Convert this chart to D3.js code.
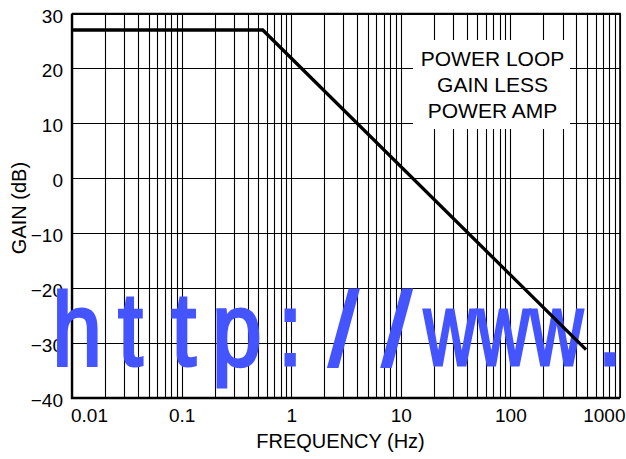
<!DOCTYPE html>
<html>
<head>
<meta charset="utf-8">
<script src="https://cdn.jsdelivr.net/npm/d3@7"></script>
<style>
  body { margin: 0; background: #fff; }
  svg { display: block; font-family: "Liberation Sans", Arial, sans-serif; }
</style>
</head>
<body>
<svg width="626" height="459"></svg>
<script>
// loop gain curve (Hz, dB)
var freq = [0.01, 0.55, 490];
var gain = [27, 27, -31.2];

var xTicks = [0.01, 0.1, 1, 10, 100, 1000];
var xTickLabels = ["0.01", "0.1", "1", "10", "100", "1000"];
var yTicks = [-40, -30, -20, -10, 0, 10, 20, 30];
var noteLines = ["POWER LOOP", "GAIN LESS", "POWER AMP"];
var watermark = "http://www.";

var svg = d3.select("svg");
var plot = {left: 72, right: 620, top: 13.5, bottom: 398};

var x = d3.scaleLog().domain([0.01, 1000]).range([plot.left, plot.right]);
var y = d3.scaleLinear().domain([-40, 30]).range([plot.bottom, plot.top]);

var g = svg.append("g");

// vertical grid, 1..9 per decade
g.selectAll(".vgrid")
    .data(x.ticks())
    .enter().append("line")
    .attr("class", "vgrid")
    .attr("x1", function (d) { return Math.round(x(d)) + 0.5; })
    .attr("x2", function (d) { return Math.round(x(d)) + 0.5; })
    .attr("y1", plot.top)
    .attr("y2", plot.bottom)
    .attr("stroke", "#000")
    .attr("stroke-width", 1.1);

// horizontal grid
g.selectAll(".hgrid")
    .data(yTicks)
    .enter().append("line")
    .attr("class", "hgrid")
    .attr("x1", plot.left)
    .attr("x2", plot.right)
    .attr("y1", function (d) { return Math.round(y(d)) + 0.5; })
    .attr("y2", function (d) { return Math.round(y(d)) + 0.5; })
    .attr("stroke", "#000")
    .attr("stroke-width", 1.1);

// frame: thin top/right, heavy left/bottom
g.append("path")
    .attr("d", "M" + plot.left + "," + plot.top + "H" + plot.right + "V" + plot.bottom)
    .attr("fill", "none").attr("stroke", "#000").attr("stroke-width", 1.6);
g.append("path")
    .attr("d", "M" + plot.left + "," + plot.top + "V" + plot.bottom + "H" + plot.right)
    .attr("fill", "none").attr("stroke", "#000").attr("stroke-width", 2.4);

// note box blanks the grid behind it
g.append("rect")
    .attr("x", 413).attr("y", 40)
    .attr("width", 157).attr("height", 89)
    .attr("fill", "#fff");

g.append("g").selectAll("text")
    .data(noteLines)
    .enter().append("text")
    .attr("x", 492.5)
    .attr("y", function (d, i) { return 66 + i * 26.2; })
    .attr("text-anchor", "middle")
    .attr("font-size", 21)
    .attr("fill", "#000")
    .text(function (d) { return d; });

// axes
var xAxis = d3.axisBottom(x)
    .tickValues(xTicks)
    .tickSize(0)
    .tickPadding(11)
    .tickFormat(function (d, i) { return xTickLabels[i]; });

var xa = g.append("g")
    .attr("transform", "translate(0," + plot.bottom + ")")
    .call(xAxis);
xa.select(".domain").remove();
xa.selectAll("text")
    .attr("font-size", 19)
    .attr("font-family", "Liberation Sans, Arial, sans-serif")
    .attr("fill", "#000")
    .attr("dy", "0.71em");
xa.selectAll("text").filter(function (d) { return d === 0.01; })
    .attr("text-anchor", "start").attr("dx", -1.5);
xa.selectAll("text").filter(function (d) { return d === 1000; })
    .attr("text-anchor", "end").attr("dx", 5);

var yAxis = d3.axisLeft(y)
    .tickValues(yTicks)
    .tickSize(0)
    .tickPadding(9)
    .tickFormat(d3.format("d"));

var ya = g.append("g")
    .attr("transform", "translate(" + plot.left + ",0)")
    .call(yAxis);
ya.select(".domain").remove();
ya.selectAll("text")
    .attr("font-size", 19)
    .attr("font-family", "Liberation Sans, Arial, sans-serif")
    .attr("fill", "#000")
    .attr("dy", "0.45em");

svg.append("text")
    .attr("x", 340.5)
    .attr("y", 447.5)
    .attr("text-anchor", "middle")
    .attr("font-size", 20)
    .text("FREQUENCY (Hz)");

svg.append("text")
    .attr("transform", "translate(26,208) rotate(-90)")
    .attr("text-anchor", "middle")
    .attr("font-size", 20)
    .text("GAIN (dB)");

// watermark over the grid: fixed pitch, each glyph squeezed into its cell
var pitch = 53.3;
svg.append("g").selectAll("text")
    .data(watermark.split(""))
    .enter().append("text")
    .attr("transform", function (d, i) {
        var sx = d === "w" ? 0.7 : d === "/" ? 1 : 0.86;
        return "translate(" + (77 + i * pitch) + ",365) scale(" + sx + ",1)";
    })
    .attr("font-size", 104)
    .attr("text-anchor", "middle")
    .attr("fill", "#4455ff")
    .attr("stroke", "#4455ff")
    .attr("stroke-width", 3.2)
    .text(function (d) { return d; });

// the curve on top
var line = d3.line()
    .x(function (d) { return x(d[0]); })
    .y(function (d) { return y(d[1]); });

svg.append("path")
    .datum(d3.zip(freq, gain))
    .attr("d", line)
    .attr("fill", "none")
    .attr("stroke", "#000")
    .attr("stroke-width", 3.3);
</script>
</body>
</html>
